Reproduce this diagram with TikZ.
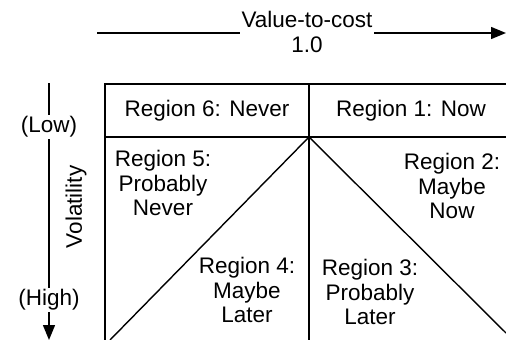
\documentclass[tikz,border=0pt]{standalone}
\usepackage{fontspec}
\setmainfont{Liberation Sans}
\usetikzlibrary{arrows.meta}

\begin{document}
\begin{tikzpicture}[x=1pt, y=-1pt, line width=1.4pt,
		font=\fontsize{22.5}{24.5}\selectfont]
	\tikzset{axis/.style = {-{Triangle[length=15pt, width=12pt]}},
		region/.style = {align=center, inner sep=0pt},
		tag/.style = {fill=white, align=center, inner sep=2pt}}
	\useasboundingbox (0,0) rectangle (506,340);
	
	% Eckpunkte
	\coordinate (tl) at (105,84);
	\coordinate (tr) at (506,84);
	\coordinate (ml) at (105,137);
	\coordinate (mr) at (506,137);
	\coordinate (top) at (309,84);
	\coordinate (apex) at (309,137);
	\coordinate (bl) at (105,340);
	\coordinate (bm) at (309,340);
	\coordinate (dl) at (110,340);
	\coordinate (dr) at (506,333);
	
	% Raster
	\draw (tr) -- (tl) -- (bl);
	\draw (ml) -- (mr);
	\draw (top) -- (bm);
	\draw (dl) -- (apex) -- (dr);
	
	% Achsen
	\coordinate (vs) at (97,33);
	\coordinate (ve) at (506,33);
	\draw[axis] (vs) -- (ve);
	\node[tag] (cost) at (307,32) {Value-to-cost\\1.0};
	\coordinate (hs) at (49,83);
	\coordinate (he) at (49,340);
	\draw[axis] (hs) -- (he);
	\node[tag] (low) at (49,127) {(Low)};
	\node[tag] (high) at (49,300) {(High)};
	\node[rotate=90] (vol) at (76,207) {Volatility};
	
	% Regionen
	\node[region] (r6) at (207,111) {Region 6: Never};
	\node[region] (r1) at (411,111) {Region 1: Now};
	\node[region] (r5) at (163,183) {Region 5:\\Probably\\Never};
	\node[region] (r2) at (452,186) {Region 2:\\Maybe\\Now};
	\node[region] (r4) at (247,290) {Region 4:\\Maybe\\Later};
	\node[region] (r3) at (370,292) {Region 3:\\Probably\\Later};
\end{tikzpicture}
\end{document}
